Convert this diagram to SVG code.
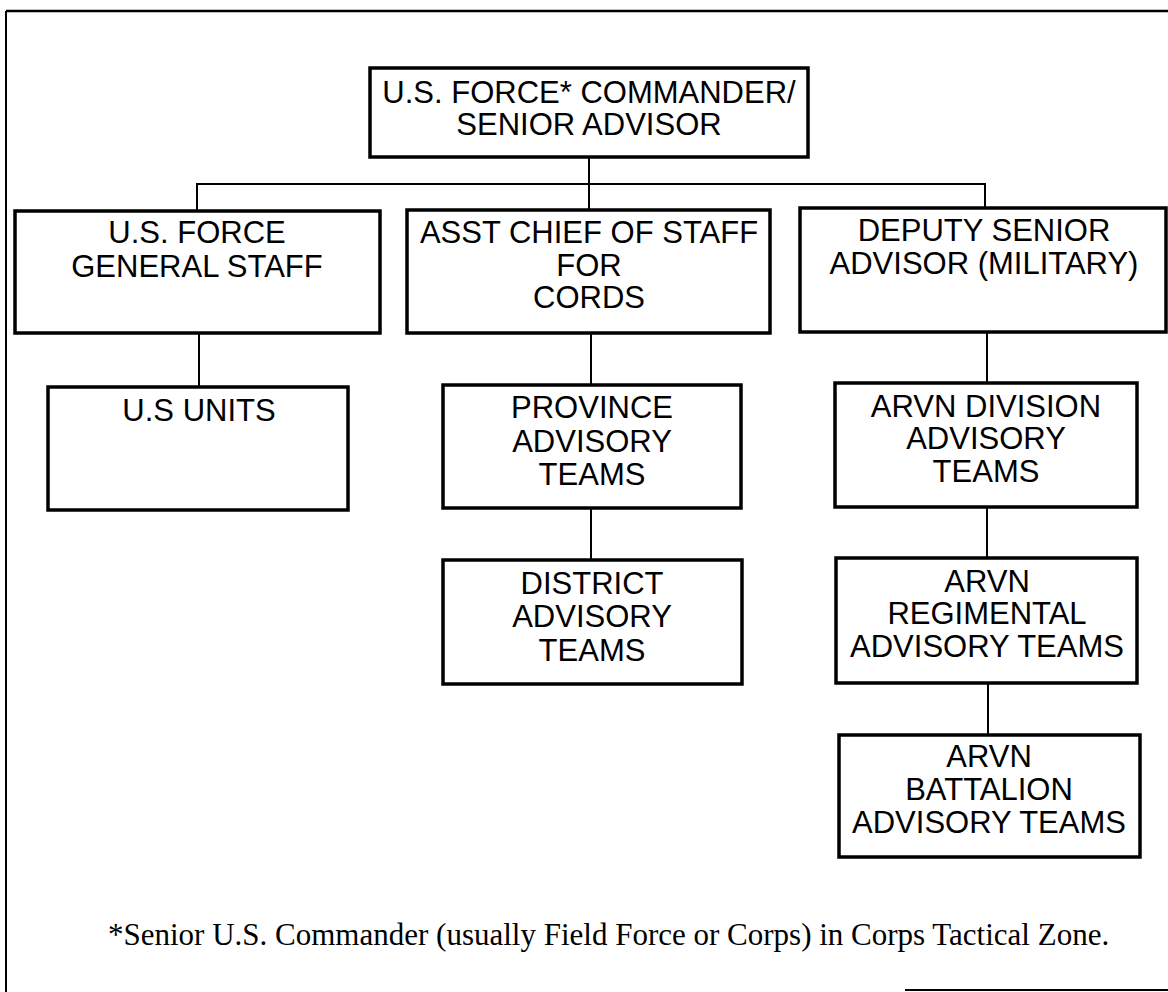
<svg xmlns="http://www.w3.org/2000/svg" width="1168" height="992" viewBox="0 0 1168 992">
<style>
.box{fill:#fff;stroke:#000;stroke-width:3.5}
.t{font-family:"Liberation Sans",Arial,sans-serif;font-size:31px;text-anchor:middle;fill:#000}
.c{stroke:#000;stroke-width:2;fill:none}
.f{font-family:"Liberation Serif","Times New Roman",serif;font-size:31px;fill:#000}
</style>
<rect width="1168" height="992" fill="#fff"/>
<g id="frame" stroke="#000" fill="none">
<line x1="6" y1="11" x2="1168" y2="11" stroke-width="2.5"/>
<line x1="6" y1="11" x2="6" y2="992" stroke-width="2"/>
<line x1="905" y1="990" x2="1168" y2="990" stroke-width="2"/>
</g>
<g id="connectors">
<line class="c" x1="589" y1="157" x2="589" y2="184"/>
<polyline class="c" points="197,211 197,184 985,184 985,209"/>
<line class="c" x1="589" y1="184" x2="589" y2="211"/>
<line class="c" x1="199" y1="333" x2="199" y2="387"/>
<line class="c" x1="591" y1="333" x2="591" y2="385"/>
<line class="c" x1="591" y1="508" x2="591" y2="560"/>
<line class="c" x1="987" y1="332" x2="987" y2="383"/>
<line class="c" x1="987" y1="507" x2="987" y2="558"/>
<line class="c" x1="988" y1="683" x2="988" y2="735"/>
</g>
<g id="n-commander">
<rect class="box" x="370" y="68" width="438" height="89"/>
<text class="t" x="589" y="103">U.S. FORCE* COMMANDER/</text>
<text class="t" x="589" y="135">SENIOR ADVISOR</text>
</g>
<g id="n-general-staff">
<rect class="box" x="15" y="211" width="365" height="122"/>
<text class="t" x="197" y="243">U.S. FORCE</text>
<text class="t" x="197" y="277">GENERAL STAFF</text>
</g>
<g id="n-asst-chief">
<rect class="box" x="407" y="210" width="363" height="123"/>
<text class="t" x="589" y="243">ASST CHIEF OF STAFF</text>
<text class="t" x="589" y="276">FOR</text>
<text class="t" x="589" y="308">CORDS</text>
</g>
<g id="n-deputy">
<rect class="box" x="800" y="208" width="366" height="124"/>
<text class="t" x="984" y="241">DEPUTY SENIOR</text>
<text class="t" x="984" y="274">ADVISOR (MILITARY)</text>
</g>
<g id="n-us-units">
<rect class="box" x="48" y="387" width="300" height="123"/>
<text class="t" x="199" y="421">U.S UNITS</text>
</g>
<g id="n-province">
<rect class="box" x="443" y="385" width="298" height="123"/>
<text class="t" x="592" y="418">PROVINCE</text>
<text class="t" x="592" y="452">ADVISORY</text>
<text class="t" x="592" y="485">TEAMS</text>
</g>
<g id="n-district">
<rect class="box" x="443" y="560" width="299" height="124"/>
<text class="t" x="592" y="594">DISTRICT</text>
<text class="t" x="592" y="627">ADVISORY</text>
<text class="t" x="592" y="661">TEAMS</text>
</g>
<g id="n-division">
<rect class="box" x="835" y="383" width="302" height="124"/>
<text class="t" x="986" y="417">ARVN DIVISION</text>
<text class="t" x="986" y="449">ADVISORY</text>
<text class="t" x="986" y="482">TEAMS</text>
</g>
<g id="n-regimental">
<rect class="box" x="836" y="558" width="301" height="125"/>
<text class="t" x="987" y="592">ARVN</text>
<text class="t" x="987" y="624">REGIMENTAL</text>
<text class="t" x="987" y="657">ADVISORY TEAMS</text>
</g>
<g id="n-battalion">
<rect class="box" x="839" y="735" width="301" height="122"/>
<text class="t" x="989" y="767">ARVN</text>
<text class="t" x="989" y="800">BATTALION</text>
<text class="t" x="989" y="833">ADVISORY TEAMS</text>
</g>
<text class="f" x="108" y="945">*Senior U.S. Commander (usually Field Force or Corps) in Corps Tactical Zone.</text>
</svg>
